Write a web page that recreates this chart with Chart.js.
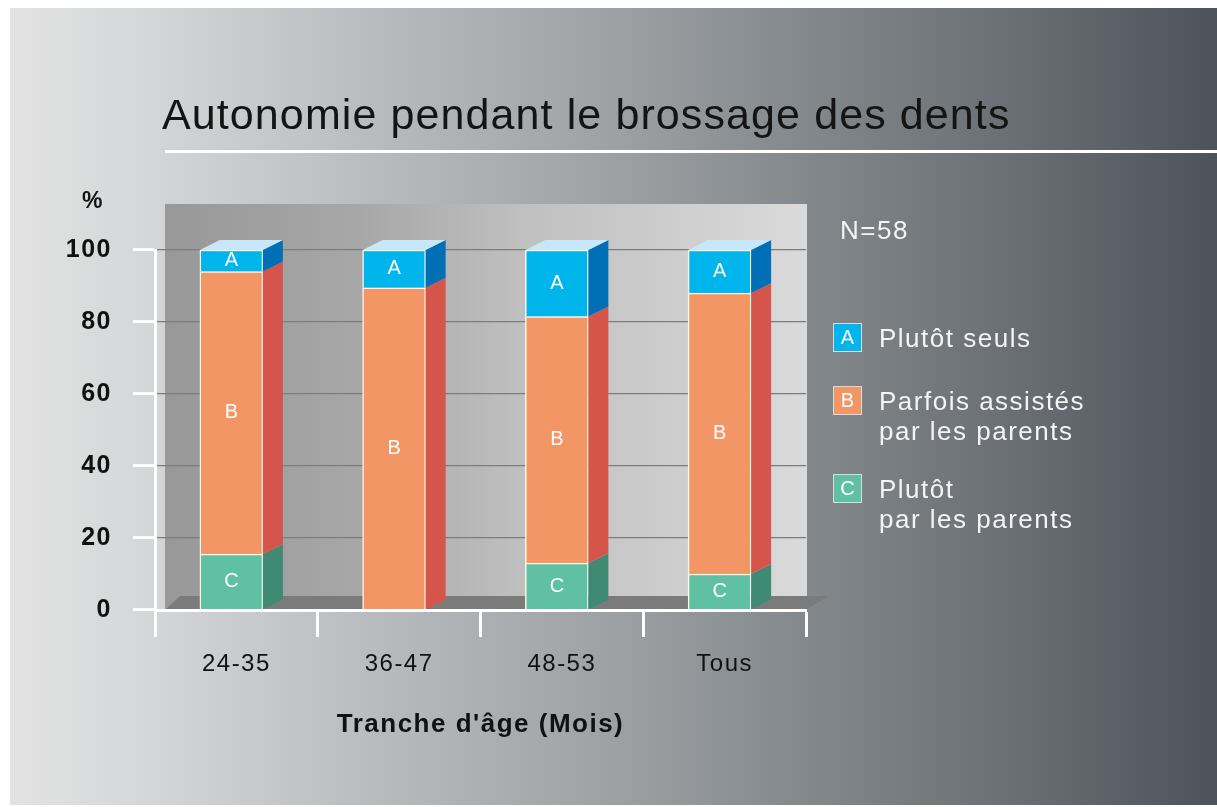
<!DOCTYPE html>
<html>
<head>
<meta charset="utf-8">
<script src="https://cdn.jsdelivr.net/npm/chart.js@4.4.1/dist/chart.umd.min.js"></script>
<style>
html,body{margin:0;padding:0;background:#fff;overflow:hidden}
#wrap{width:1217px;height:807px;position:relative}
canvas{display:block}
</style>
</head>
<body>
<div id="wrap"><canvas id="c" width="1217" height="807"></canvas></div>
<script>
// ---- data ----
const categories = ['24-35', '36-47', '48-53', 'Tous'];
const seriesA = [6, 10.5, 18.5, 12];      // Plutôt seuls
const seriesB = [78.5, 89.5, 68.5, 78];   // Parfois assistés par les parents
const seriesC = [15.5, 0, 13, 10];        // Plutôt par les parents
const yTicks = [0, 20, 40, 60, 80, 100];
const seriesLetters = ['A', 'B', 'C'];
const seriesNames = [['Plutôt seuls'], ['Parfois assistés', 'par les parents'], ['Plutôt', 'par les parents']];
const titleText = 'Autonomie pendant le brossage des dents';
const xTitleText = "Tranche d'âge (Mois)";
const yUnitText = '%';
const nText = 'N=58';

// ---- styles ----
const FONT = "'Liberation Sans', Arial, Helvetica, sans-serif";
const DX = 20, DY = 10, SHIFT = -5;
const style = {
  A: {front: '#00b5ec', side: '#006fb6', top: '#c8e7f9'},
  B: {front: '#f19664', side: '#d6554a'},
  C: {front: '#5fc1a1', side: '#3f8a73'}
};

const deco = {
  id: 'deco',
  beforeDraw(chart) {
    const {ctx, chartArea: a} = chart;
    ctx.save();
    ctx.fillStyle = '#ffffff';
    ctx.fillRect(0, 0, chart.width, chart.height);
    const g = ctx.createLinearGradient(10, 0, 1217, 0);
    g.addColorStop(0, '#e3e3e3');
    g.addColorStop(0.12, '#d3d5d6');
    g.addColorStop(0.32, '#b6b9bb');
    g.addColorStop(0.5, '#9da1a4');
    g.addColorStop(0.66, '#83888c');
    g.addColorStop(0.83, '#696f74');
    g.addColorStop(1, '#4d535b');
    ctx.fillStyle = g;
    ctx.fillRect(10, 8, 1207, 797);
    // back wall
    const wl = a.left + 10, wr = a.right + 1, wt = a.top - 46, wb = a.bottom;
    const g2 = ctx.createLinearGradient(wl, 0, wr, 0);
    g2.addColorStop(0, '#989898');
    g2.addColorStop(0.3, '#a7a7a7');
    g2.addColorStop(0.55, '#bfbfbf');
    g2.addColorStop(0.8, '#cecece');
    g2.addColorStop(1, '#dadada');
    ctx.fillStyle = g2;
    ctx.fillRect(wl, wt, wr - wl, wb - wt);
    // floor
    ctx.fillStyle = '#7b7b7b';
    ctx.beginPath();
    ctx.moveTo(a.left + 10, a.bottom);
    ctx.lineTo(a.left + 25, a.bottom - 14);
    ctx.lineTo(a.right + 22, a.bottom - 14);
    ctx.lineTo(a.right, a.bottom);
    ctx.closePath();
    ctx.fill();
    // rule under the title
    ctx.fillStyle = '#ffffff';
    ctx.fillRect(165, 150, 1052, 3);
    ctx.restore();
    ctx.letterSpacing = '1.5px';
  },
  beforeDatasetsDraw(chart) {
    chart.ctx.save();
    chart.ctx.translate(SHIFT, 0);
  },
  afterDatasetsDraw(chart) {
    const ctx = chart.ctx;
    const keys = ['C', 'B', 'A'];
    const n = chart.data.datasets.length;
    chart.data.datasets.forEach((ds, di) => {
      const meta = chart.getDatasetMeta(di);
      const st = style[keys[di]];
      meta.data.forEach((el, i) => {
        const v = ds.data[i];
        if (!v) return;
        const p = el.getProps(['x', 'y', 'base', 'width'], true);
        const r = p.x + p.width / 2, l = p.x - p.width / 2;
        const top = Math.min(p.y, p.base), bot = Math.max(p.y, p.base);
        ctx.fillStyle = st.side;
        ctx.beginPath();
        ctx.moveTo(r, top); ctx.lineTo(r + DX, top - DY);
        ctx.lineTo(r + DX, bot - DY); ctx.lineTo(r, bot);
        ctx.closePath(); ctx.fill();
        if (di === n - 1) {
          ctx.fillStyle = st.top;
          ctx.beginPath();
          ctx.moveTo(l, top); ctx.lineTo(l + DX, top - DY);
          ctx.lineTo(r + DX, top - DY); ctx.lineTo(r, top);
          ctx.closePath(); ctx.fill();
        }
        ctx.save();
        ctx.letterSpacing = '0px';
        ctx.fillStyle = '#ffffff';
        ctx.font = `20px ${FONT}`;
        ctx.textAlign = 'center';
        ctx.textBaseline = 'middle';
        ctx.fillText(seriesLetters[2 - di], p.x, (top + bot) / 2);
        ctx.restore();
      });
    });
    ctx.restore();
  },
  afterDraw(chart) {
    const ctx = chart.ctx;
    ctx.save();
    ctx.textAlign = 'left';
    ctx.textBaseline = 'alphabetic';
    // title
    ctx.letterSpacing = '1.1px';
    ctx.fillStyle = '#141414';
    ctx.font = `43px ${FONT}`;
    ctx.fillText(titleText, 162, 129);
    // unit
    ctx.letterSpacing = '0px';
    ctx.font = `bold 23px ${FONT}`;
    ctx.fillText(yUnitText, 82, 208);
    // N
    ctx.letterSpacing = '1.5px';
    ctx.fillStyle = '#f4f4f4';
    ctx.font = `26px ${FONT}`;
    ctx.fillText(nText, 840, 239);
    // legend
    const boxTops = [323, 386, 474];
    const keys = ['A', 'B', 'C'];
    keys.forEach((k, i) => {
      const y0 = boxTops[i];
      ctx.fillStyle = style[k].front;
      ctx.fillRect(833, y0, 29, 29);
      ctx.strokeStyle = '#dcdcdc';
      ctx.lineWidth = 1;
      ctx.strokeRect(833.5, y0 + 0.5, 28, 28);
      ctx.save();
      ctx.letterSpacing = '0px';
      ctx.fillStyle = '#ffffff';
      ctx.font = `20px ${FONT}`;
      ctx.textAlign = 'center';
      ctx.textBaseline = 'middle';
      ctx.fillText(seriesLetters[i], 847.5, y0 + 15);
      ctx.restore();
      ctx.fillStyle = '#f4f4f4';
      ctx.font = `26px ${FONT}`;
      seriesNames[i].forEach((line, j) => {
        ctx.fillText(line, 879, y0 + 24 + j * 30);
      });
    });
    ctx.restore();
    ctx.letterSpacing = '0px';
  }
};

const border = {color: '#ffffff', width: 3, z: 1};

new Chart(document.getElementById('c'), {
  type: 'bar',
  data: {
    labels: categories,
    datasets: [
      {label: 'C', data: seriesC, backgroundColor: style.C.front},
      {label: 'B', data: seriesB, backgroundColor: style.B.front},
      {label: 'A', data: seriesA, backgroundColor: style.A.front}
    ].map(d => Object.assign(d, {
      borderColor: '#fdf6ea',
      borderWidth: c => (c.raw ? 1.5 : 0),
      barThickness: 63
    }))
  },
  options: {
    responsive: false,
    animation: false,
    devicePixelRatio: 1,
    layout: {padding: {top: 250, right: 411, bottom: 67, left: 0}},
    plugins: {legend: {display: false}, tooltip: {enabled: false}, title: {display: false}},
    scales: {
      x: {
        stacked: true,
        afterFit: s => { s.height = 130; },
        grid: {display: true, drawOnChartArea: false, drawTicks: true, tickLength: 27, tickColor: '#ffffff', tickWidth: 3, offset: true},
        border: border,
        ticks: {color: '#111111', font: {family: FONT, size: 24}, padding: 13, maxRotation: 0, autoSkip: false},
        title: {display: true, text: xTitleText, color: '#111111', font: {family: FONT, size: 26, weight: 'bold'}, padding: {top: 30, bottom: 0}}
      },
      y: {
        stacked: true,
        min: 0,
        max: 100,
        afterFit: s => { s.width = 155; },
        afterBuildTicks: s => { s.ticks = yTicks.map(v => ({value: v})); },
        grid: {color: '#7d7d7d', lineWidth: 1.2, drawTicks: true, tickLength: 22, tickColor: '#ffffff', tickWidth: 3},
        border: border,
        ticks: {color: '#111111', font: {family: FONT, size: 25, weight: 'bold'}, padding: 21}
      }
    }
  },
  plugins: [deco]
});
</script>
</body>
</html>
